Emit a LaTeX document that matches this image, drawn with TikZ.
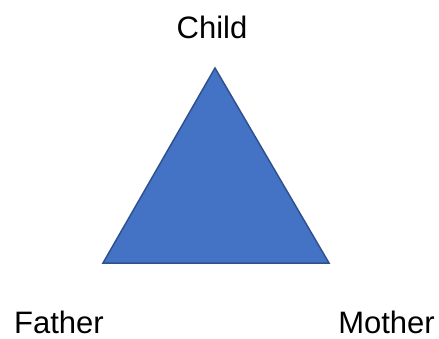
\documentclass[tikz,border=0pt]{standalone}
\usepackage{fontspec}
\setmainfont{Liberation Sans}
\usepackage{xcolor}
\definecolor{TriFill}{HTML}{4472C4}
\definecolor{TriEdge}{HTML}{2F528F}
\begin{document}
\begin{tikzpicture}[
  x=1pt,y=-1pt,
  label text/.style={inner sep=0pt,font=\fontsize{31}{36}\selectfont},
  tri/.style={fill=TriFill,draw=TriEdge,line width=1.5pt,line join=miter}
]
  \useasboundingbox (0,0) rectangle (439,338);
  \coordinate (apex) at (215,68);
  \coordinate (left) at (103,263);
  \coordinate (right) at (329,263);
  \filldraw[tri] (apex) -- (left) -- (right) -- cycle;
  \node[label text,anchor=base] (child) at (212,38) {Child};
  \node[label text,anchor=base west] (father) at (14,333) {Father};
  \node[label text,anchor=base east] (mother) at (435,333) {Mother};
\end{tikzpicture}
\end{document}
